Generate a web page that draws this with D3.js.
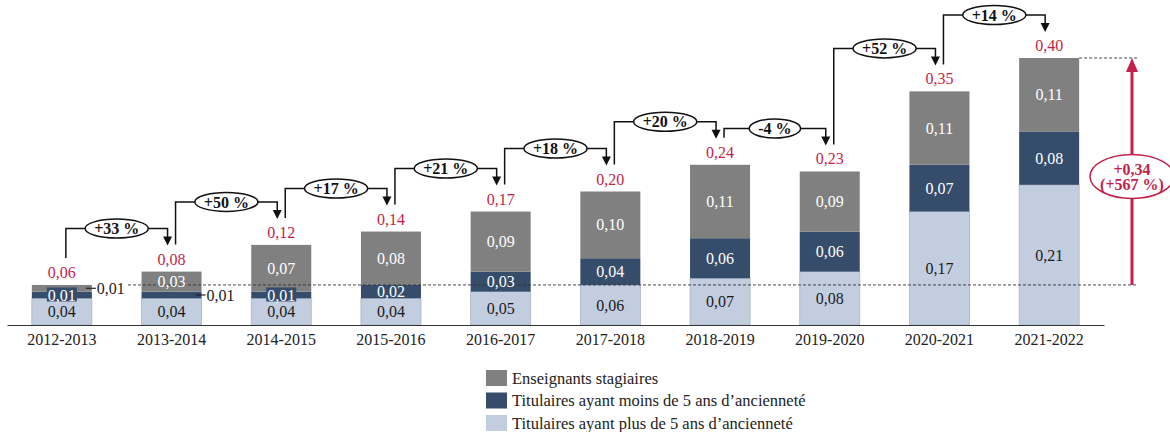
<!DOCTYPE html>
<html>
<head>
<meta charset="utf-8">
<script src="https://cdn.jsdelivr.net/npm/d3@7"></script>
<style>
  html, body { margin: 0; padding: 0; background: #fff; }
  svg { display: block; font-family: "Liberation Serif", "Times New Roman", serif; }
</style>
</head>
<body>
<div id="chart"></div>
<script>
// data
const categories = ['2012-2013', '2013-2014', '2014-2015', '2015-2016', '2016-2017',
  '2017-2018', '2018-2019', '2019-2020', '2020-2021', '2021-2022']
const plus5 = [0.04, 0.04, 0.04, 0.04, 0.05, 0.06, 0.07, 0.08, 0.17, 0.21]
const moins5 = [0.01, 0.01, 0.01, 0.02, 0.03, 0.04, 0.06, 0.06, 0.07, 0.08]
const stagiaires = [0.01, 0.03, 0.07, 0.08, 0.09, 0.10, 0.11, 0.09, 0.11, 0.11]
const changes = ['+33 %', '+50 %', '+17 %', '+21 %', '+18 %', '+20 %', '-4 %', '+52 %', '+14 %']
const totalChange = ['+0,34', '(+567 %)']
const legendLabels = ['Enseignants stagiaires',
  'Titulaires ayant moins de 5 ans d\u2019ancienneté',
  'Titulaires ayant plus de 5 ans d\u2019ancienneté']

const keys = ['plus5', 'moins5', 'stag']
const colors = { plus5: '#c2cde0', moins5: '#364c6b', stag: '#808080' }
const textColors = { plus5: '#1a1a1a', moins5: '#fff', stag: '#fff' }
const red = '#c41e4a'

const width = 1170, height = 432
const baseY = 325

const locale = d3.formatLocale({ decimal: ',', thousands: ' ', grouping: [3], currency: ['', '€'] })
const fmt = locale.format('.2f')

const rows = categories.map((c, i) => ({
  cat: c, plus5: plus5[i], moins5: moins5[i], stag: stagiaires[i],
  total: plus5[i] + moins5[i] + stagiaires[i]
}))

const svg = d3.select('#chart').append('svg')
  .attr('width', width).attr('height', height)

const x = d3.scaleBand()
  .domain(categories)
  .range([7, 1104])
  .paddingInner(0.453)
  .paddingOuter(0.2265)

const y = d3.scaleLinear().domain([0, 0.40]).range([baseY, 58])

const series = d3.stack().keys(keys)(rows)

// bars
const layers = svg.append('g').selectAll('g')
  .data(series).join('g')
  .attr('fill', d => colors[d.key])

layers.selectAll('rect')
  .data(d => d.map(v => Object.assign(v, { key: d.key })))
  .join('rect')
  .attr('x', d => x(d.data.cat))
  .attr('y', d => y(d[1]))
  .attr('width', x.bandwidth())
  .attr('height', d => y(d[0]) - y(d[1]))
  .attr('stroke', d => d.key === 'plus5' ? '#a9b4c6' : 'none')
  .attr('stroke-width', 0.8)

// axis
const xAxis = svg.append('g')
  .attr('transform', `translate(0,${baseY})`)
  .call(d3.axisBottom(x).tickSize(0).tickPadding(9))
xAxis.select('.domain').attr('stroke', '#333').attr('stroke-width', 1.2)
xAxis.selectAll('text')
  .attr('font-family', '"Liberation Serif", serif')
  .attr('font-size', 16)
  .attr('fill', '#222')

// reference dashed lines
const refY = y(rows[0].total)
const lastTop = y(rows[rows.length - 1].total)
const arrowX = 1132
svg.append('line')
  .attr('x1', 128).attr('x2', 1137)
  .attr('y1', refY).attr('y2', refY)
  .attr('stroke', '#333').attr('stroke-width', 0.9)
  .attr('stroke-dasharray', '3,2')
svg.append('line')
  .attr('x1', x(categories[9]) + x.bandwidth()).attr('x2', 1137)
  .attr('y1', lastTop).attr('y2', lastTop)
  .attr('stroke', '#333').attr('stroke-width', 0.9)
  .attr('stroke-dasharray', '3,2')

// segment labels
const outside = { '0-stag': true, '1-moins5': true }
const boxed = { '0-moins5': true, '2-moins5': true }

const segs = []
series.forEach(s => s.forEach((d, i) => segs.push({ key: s.key, i, d })))

const labels = svg.append('g')
  .attr('font-size', 16)
  .attr('text-anchor', 'middle')

segs.forEach(({ key, i, d }) => {
  const id = i + '-' + key
  const cy = (y(d[0]) + y(d[1])) / 2
  const cx = x(d.data.cat) + x.bandwidth() / 2
  const txt = fmt(d[1] - d[0])
  if (outside[id]) {
    const right = x(d.data.cat) + x.bandwidth()
    labels.append('line')
      .attr('x1', right - 6).attr('x2', right + 4)
      .attr('y1', cy).attr('y2', cy)
      .attr('stroke', '#222').attr('stroke-width', 1.2)
    labels.append('text')
      .attr('x', right + 5).attr('y', cy)
      .attr('dy', '0.35em')
      .attr('text-anchor', 'start')
      .attr('fill', '#222')
      .text(txt)
    return
  }
  if (boxed[id]) {
    labels.append('rect')
      .attr('x', cx - 15).attr('y', cy - 7.5)
      .attr('width', 30).attr('height', 14)
      .attr('fill', colors[key])
  }
  labels.append('text')
    .attr('x', cx).attr('y', cy)
    .attr('dy', '0.35em')
    .attr('fill', textColors[key])
    .text(txt)
})

// totals
svg.append('g').selectAll('text')
  .data(rows).join('text')
  .attr('x', d => x(d.cat) + x.bandwidth() / 2)
  .attr('y', d => y(d.total) - 7)
  .attr('text-anchor', 'middle')
  .attr('font-size', 16)
  .attr('fill', red)
  .text(d => fmt(d.total))

// change arrows between bars
const arrows = svg.append('g')
changes.forEach((label, i) => {
  const a = rows[i], b = rows[i + 1]
  const g = arrows.append('g')
  const x0 = x(a.cat) + x.bandwidth() / 2 + 4
  const x1 = x(b.cat) + x.bandwidth() / 2 - 4
  const startY = y(a.total) - 27
  const tipY = y(b.total) - 26
  const level = tipY - 17
  g.append('path')
    .attr('d', `M${x0},${startY}V${level}H${x1}V${tipY - 8}`)
    .attr('fill', 'none')
    .attr('stroke', '#111')
    .attr('stroke-width', 1.5)
  g.append('path')
    .attr('d', `M${x1 - 4.5},${tipY - 9}L${x1 + 4.5},${tipY - 9}L${x1},${tipY}Z`)
    .attr('fill', '#111')
  const mx = (x0 + x1) / 2
  const ell = g.append('ellipse')
  const t = g.append('text')
    .attr('x', mx).attr('y', level)
    .attr('dy', '0.35em')
    .attr('text-anchor', 'middle')
    .attr('font-size', 16)
    .attr('font-weight', 'bold')
    .attr('fill', '#111')
    .text(label)
  const w = t.node().getComputedTextLength()
  ell.attr('cx', mx).attr('cy', level)
    .attr('rx', w / 2 + 9).attr('ry', 9.5)
    .attr('fill', '#fff')
    .attr('stroke', '#111')
    .attr('stroke-width', 1.5)
})

// overall change arrow
const big = svg.append('g')
big.append('line')
  .attr('x1', arrowX).attr('x2', arrowX)
  .attr('y1', refY).attr('y2', lastTop + 12)
  .attr('stroke', red).attr('stroke-width', 3)
big.append('path')
  .attr('d', `M${arrowX - 6},${lastTop + 14}L${arrowX + 6},${lastTop + 14}L${arrowX},${lastTop}Z`)
  .attr('fill', red)
const ecy = (refY + lastTop) / 2 + 5
big.append('ellipse')
  .attr('cx', arrowX).attr('cy', ecy)
  .attr('rx', 42).attr('ry', 22)
  .attr('fill', '#fff')
  .attr('stroke', red).attr('stroke-width', 1.5)
big.selectAll('text')
  .data(totalChange).join('text')
  .attr('x', arrowX)
  .attr('y', (d, i) => ecy - 7 + i * 15)
  .attr('dy', '0.35em')
  .attr('text-anchor', 'middle')
  .attr('font-size', 16)
  .attr('font-weight', 'bold')
  .attr('fill', red)
  .text(d => d)

// legend
const legendKeys = ['stag', 'moins5', 'plus5']
const legend = svg.append('g').attr('transform', 'translate(486,370)')
legendKeys.forEach((k, i) => {
  const g = legend.append('g').attr('transform', `translate(0,${i * 22.5})`)
  g.append('rect')
    .attr('width', 21).attr('height', 16)
    .attr('fill', colors[k])
  g.append('text')
    .attr('x', 26).attr('y', 8)
    .attr('dy', '0.35em')
    .attr('font-size', 16.5)
    .attr('fill', '#222')
    .text(legendLabels[i])
})
</script>
</body>
</html>
